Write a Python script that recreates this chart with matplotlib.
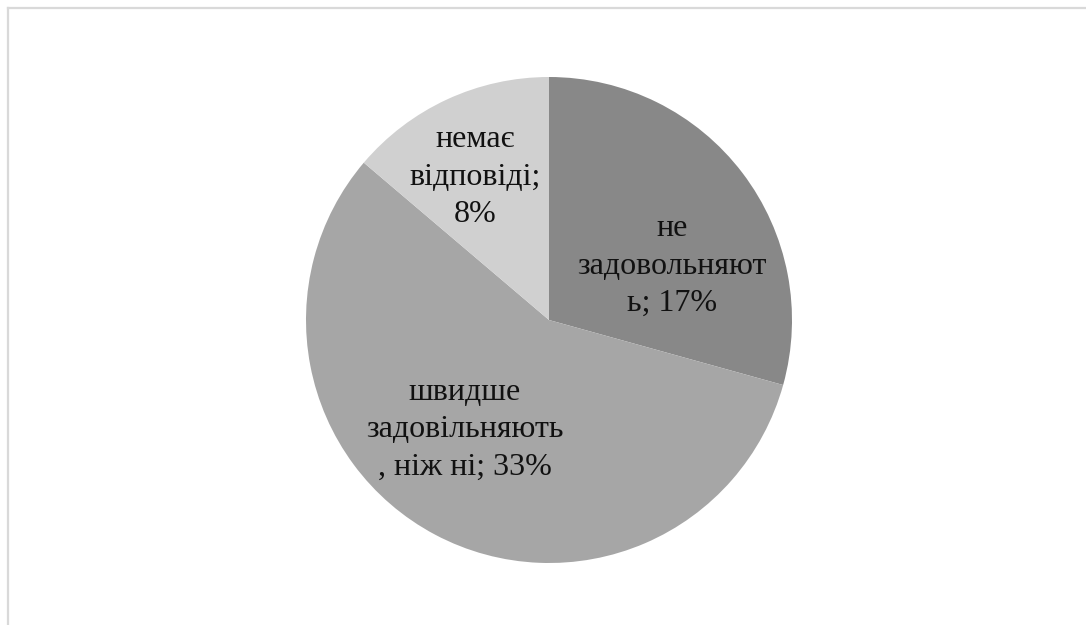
import matplotlib
matplotlib.use('Agg')
import matplotlib.pyplot as plt
from matplotlib.lines import Line2D

plt.rcParams['font.family'] = ['Liberation Serif', 'DejaVu Serif']

# share of answers per group, percent
labels = ['не\nзадовольняют\nь; 17%',
          'швидше\nзадовільняють\n, ніж ні; 33%',
          'немає\nвідповіді;\n8%']
values = [17, 33, 8]
colors = ['#888888', '#a6a6a6', '#d0d0d0']

# label centres in pie units (radius = 1)
label_xy = [(0.506, 0.222), (-0.346, -0.452), (-0.305, 0.588)]

W, H = 1086, 625
fig = plt.figure(figsize=(W / 100, H / 100), dpi=100)
fig.patch.set_facecolor('white')

cx, cy, r = 549, 320, 243
ax = fig.add_axes([(cx - r) / W, (H - cy - r) / H, 2 * r / W, 2 * r / H])
wedges, _ = ax.pie(values, colors=colors, startangle=90, counterclock=False,
                   radius=1, wedgeprops=dict(linewidth=0))
ax.set_xlim(-1, 1)
ax.set_ylim(-1, 1)
ax.set_aspect('equal')
ax.axis('off')

for txt, (x, y) in zip(labels, label_xy):
    ax.text(x, y, txt, ha='center', va='center', multialignment='center',
            fontsize=23, linespacing=1.37, color='#111111')

# thin frame along the top and left edges
edge = '#d9d9d9'
fig.add_artist(Line2D([8 / W, 1], [1 - 8 / H, 1 - 8 / H], color=edge, lw=1.6,
                      transform=fig.transFigure))
fig.add_artist(Line2D([8 / W, 8 / W], [0, 1 - 8 / H], color=edge, lw=1.6,
                      transform=fig.transFigure))

plt.savefig('out.png', dpi=100, facecolor='white')
plt.close()
